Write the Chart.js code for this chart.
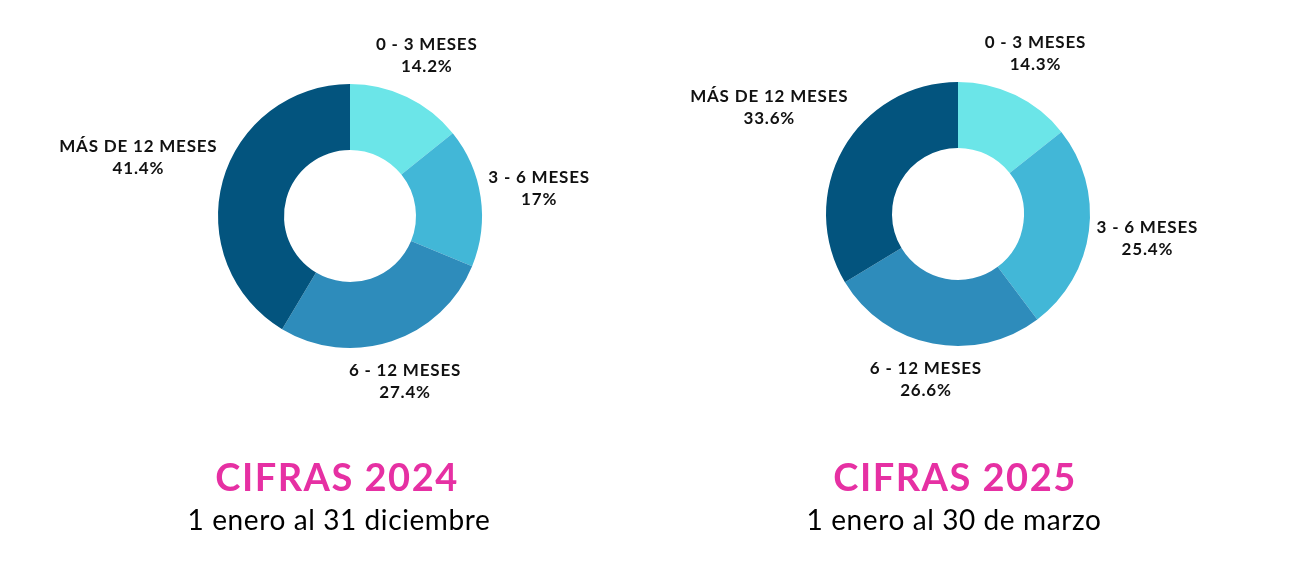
<!DOCTYPE html>
<html>
<head>
<meta charset="utf-8">
<script src="https://cdn.jsdelivr.net/npm/chart.js@4.4.1/dist/chart.umd.min.js"></script>
<style>
  html, body { margin: 0; padding: 0; background: #fff; }
  body { width: 1300px; height: 573px; position: relative; overflow: hidden; font-family: Lato, sans-serif; }
  .box { position: absolute; top: 0; width: 650px; height: 573px; }
  .title { position: absolute; width: 400px; text-align: center; color: #e630a3; font-weight: 700; font-size: 38px; letter-spacing: 1.5px; top: 453px; }
  .sub { position: absolute; width: 400px; text-align: center; color: #000; font-weight: 400; font-size: 28px; letter-spacing: 0.6px; top: 502px; }
</style>
</head>
<body>
<div class="box" style="left:0"><canvas id="c2024"></canvas></div>
<div class="box" style="left:650px"><canvas id="c2025"></canvas></div>
<div class="title" style="left:137px">CIFRAS 2024</div>
<div class="sub" style="left:139px">1 enero al 31 diciembre</div>
<div class="title" style="left:755px">CIFRAS 2025</div>
<div class="sub" style="left:754px">1 enero al 30 de marzo</div>
<script>
const categories = ['0 - 3 MESES', '3 - 6 MESES', '6 - 12 MESES', 'MÁS DE 12 MESES'];
const values2024 = [14.2, 17, 27.4, 41.4];
const values2025 = [14.3, 25.4, 26.6, 33.6];
const colors = ['#6be5e8', '#42b7d7', '#2e8cbb', '#03547e'];

// labels around the ring, placed along the middle angle of each slice
const outsideLabels = {
  id: 'outsideLabels',
  afterDatasetsDraw(chart) {
    const ctx = chart.ctx;
    const meta = chart.getDatasetMeta(0);
    const data = chart.data.datasets[0].data;
    ctx.save();
    ctx.font = '700 17px Lato';
    ctx.letterSpacing = '0.8px';
    ctx.fillStyle = '#111';
    ctx.textAlign = 'center';
    ctx.textBaseline = 'middle';
    meta.data.forEach((arc, i) => {
      const p = arc.getProps(['x', 'y', 'startAngle', 'endAngle', 'outerRadius'], true);
      const a = (p.startAngle + p.endAngle) / 2;
      const l1 = chart.data.labels[i];
      const l2 = data[i] + '%';
      const w = Math.max(ctx.measureText(l1).width, ctx.measureText(l2).width);
      const h = 40;
      const dx = Math.cos(a), dy = Math.sin(a);
      const d = p.outerRadius + 6 + Math.abs(dx) * w / 2 + Math.abs(dy) * h / 2;
      const cx = p.x + dx * d, cy = p.y + dy * d;
      ctx.fillText(l1, cx, cy - 11);
      ctx.fillText(l2, cx, cy + 11);
    });
    ctx.restore();
  }
};

function makeChart(id, values, pad) {
  return new Chart(document.getElementById(id), {
    type: 'doughnut',
    data: {
      labels: categories,
      datasets: [{ data: values, backgroundColor: colors, borderWidth: 0 }]
    },
    options: {
      responsive: true,
      maintainAspectRatio: false,
      animation: false,
      cutout: '50%',
      layout: { padding: pad },
      plugins: { legend: { display: false }, tooltip: { enabled: false } }
    },
    plugins: [outsideLabels]
  });
}

makeChart('c2024', values2024, { left: 218, right: 168, top: 84, bottom: 225 });
makeChart('c2025', values2025, { left: 176, right: 210, top: 82, bottom: 227 });
</script>
</body>
</html>
